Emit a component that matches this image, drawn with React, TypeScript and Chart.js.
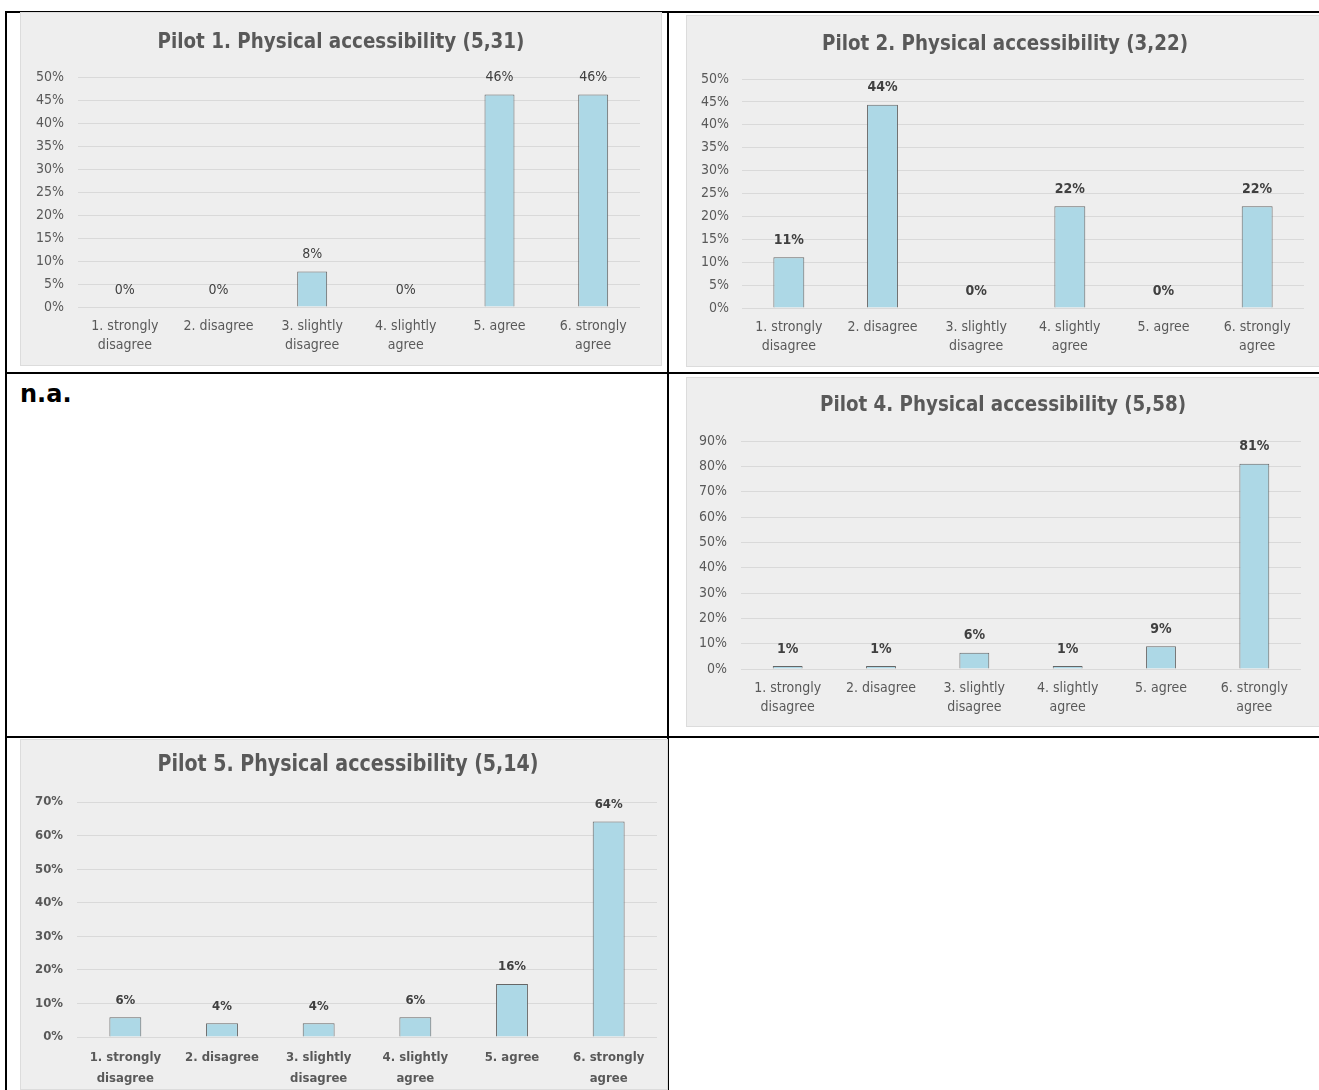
import React, { useEffect, useRef } from "react";
import { Chart, registerables } from "chart.js";

Chart.register(...registerables);

// ---------- data ----------
const CATEGORIES: (string | string[])[] = [
  ["1. strongly", "disagree"],
  "2. disagree",
  ["3. slightly", "disagree"],
  ["4. slightly", "agree"],
  "5. agree",
  ["6. strongly", "agree"],
];

const PILOT1_TITLE = "Pilot 1. Physical accessibility (5,31)";
const PILOT1_VALUES = [0, 0, 7.7, 0, 46.2, 46.2];
const PILOT1_Y_MAX = 50;
const PILOT1_Y_STEP = 5;

const PILOT2_TITLE = "Pilot 2. Physical accessibility (3,22)";
const PILOT2_VALUES = [11.1, 44.4, 0, 22.2, 0, 22.2];
const PILOT2_Y_MAX = 50;
const PILOT2_Y_STEP = 5;

const PILOT4_TITLE = "Pilot 4. Physical accessibility (5,58)";
const PILOT4_VALUES = [1.2, 1.2, 6.4, 1.2, 9.0, 81.0];
const PILOT4_Y_MAX = 90;
const PILOT4_Y_STEP = 10;

const PILOT5_TITLE = "Pilot 5. Physical accessibility (5,14)";
const PILOT5_VALUES = [5.9, 4.1, 4.1, 5.9, 15.8, 64.2];
const PILOT5_Y_MAX = 70;
const PILOT5_Y_STEP = 10;

const NA_TEXT = "n.a.";

// ---------- styles ----------
const FAMILY = "'DejaVu Sans Condensed', 'Noto Sans', sans-serif";
const TEXT_COLOR = "#595959";
const LABEL_COLOR = "#404040";
const GRID_COLOR = "#d9d9d9";
const BAR_FILL = "#add8e6";
const BAR_BORDER = "#666666";
const BOX_BG = "#eeeeee";

const labelsPlugin = {
  id: "customLabels",
  afterDatasetsDraw(chart: any, _args: any, opts: any) {
    const ctx = chart.ctx;
    const meta = chart.getDatasetMeta(0);
    const data = chart.data.datasets[0].data as number[];
    ctx.save();
    ctx.textAlign = "center";
    ctx.textBaseline = "middle";
    ctx.font = opts.labelFont;
    ctx.fillStyle = LABEL_COLOR;
    meta.data.forEach((bar: any, i: number) => {
      ctx.fillText(Math.round(data[i]) + "%", bar.x, bar.y - opts.labelOffset);
    });
    ctx.font = opts.titleFont;
    ctx.fillStyle = TEXT_COLOR;
    const measured = ctx.measureText(opts.title).width;
    const sx = opts.titleWidth && measured > 0 ? opts.titleWidth / measured : 1;
    ctx.translate(opts.titleX, opts.titleY);
    ctx.scale(sx, 1);
    ctx.fillText(opts.title, 0, 0);
    ctx.restore();
  },
};

type PanelProps = {
  title: string;
  values: number[];
  yMax: number;
  yStep: number;
  box: { x: number; y: number; w: number; h: number };
  area: { left: number; top: number; right: number; bottom: number };
  titleX: number;
  titleY: number;
  titleWidth: number;
  barPct: number;
  tickFont: { size: number; weight: string };
  labelFont: string;
  titleFont: string;
  lineHeight: number;
  xPad: number;
  yPad: number;
};

function Panel(p: PanelProps) {
  const ref = useRef<HTMLCanvasElement | null>(null);
  useEffect(() => {
    if (!ref.current) return;
    const relLeft = p.area.left - p.box.x;
    const relTop = p.area.top - p.box.y;
    const relRight = p.area.right - p.box.x;
    const relBottom = p.area.bottom - p.box.y;
    const L = 8;
    const yW = relLeft - L;
    const xH = 50;
    const B = Math.max(0, p.box.h - relBottom - xH);
    const R = p.box.w - relRight;
    const chart = new Chart(ref.current, {
      type: "bar",
      data: {
        labels: CATEGORIES as any,
        datasets: [
          {
            data: p.values,
            backgroundColor: BAR_FILL,
            borderColor: BAR_BORDER,
            borderWidth: 1,
            barPercentage: p.barPct,
            categoryPercentage: 1,
          },
        ],
      },
      options: {
        animation: false,
        responsive: false,
        maintainAspectRatio: false,
        layout: { padding: { left: L, top: relTop, right: R, bottom: B } },
        plugins: {
          legend: { display: false },
          title: { display: false },
          tooltip: { enabled: false },
          customLabels: {
            title: p.title,
            titleX: p.titleX,
            titleY: p.titleY,
            titleWidth: p.titleWidth,
            titleFont: p.titleFont,
            labelFont: p.labelFont,
            labelOffset: 17,
          },
        } as any,
        scales: {
          x: {
            grid: { display: false, drawTicks: false },
            border: { display: false },
            ticks: {
              color: TEXT_COLOR,
              padding: p.xPad,
              maxRotation: 0,
              autoSkip: false,
              font: { family: FAMILY, size: p.tickFont.size, weight: p.tickFont.weight as any, lineHeight: p.lineHeight + "px" } as any,
            },
            afterFit: (s: any) => {
              s.height = xH;
            },
          },
          y: {
            min: 0,
            max: p.yMax,
            grid: { color: GRID_COLOR, lineWidth: 1, drawTicks: false },
            border: { display: false },
            ticks: {
              stepSize: p.yStep,
              color: TEXT_COLOR,
              padding: p.yPad,
              font: { family: FAMILY, size: p.tickFont.size, weight: p.tickFont.weight as any },
              callback: (v: any) => v + "%",
            },
            afterFit: (s: any) => {
              s.width = yW;
            },
          },
        },
      },
      plugins: [labelsPlugin as any],
    });
    return () => chart.destroy();
  }, []);
  return (
    <div
      style={{
        position: "absolute",
        left: p.box.x,
        top: p.box.y,
        width: p.box.w,
        height: p.box.h,
        background: BOX_BG,
        boxShadow: "inset 0 0 0 1px #dcdcdc",
        zIndex: 2,
      }}
    >
      <canvas
        ref={ref}
        width={p.box.w}
        height={p.box.h}
        style={{ position: "absolute", left: 0, top: 0, width: p.box.w, height: p.box.h }}
      />
    </div>
  );
}

const line = (left: number, top: number, width: number, height: number) => (
  <div style={{ position: "absolute", left, top, width, height, background: "#000", zIndex: 1 }} />
);

export default function App() {
  const normalTick = { size: 14, weight: "normal" };
  const boldTick = { size: 13, weight: "bold" };
  return (
    <div
      style={{
        position: "absolute",
        left: 0,
        top: 0,
        width: 1319,
        height: 1090,
        overflow: "hidden",
        background: "#fff",
      }}
    >
      {line(5, 11, 1314, 2)}
      {line(5, 11, 2, 1079)}
      {line(667, 11, 2, 1079)}
      {line(5, 372, 1314, 2)}
      {line(5, 736, 1314, 2)}

      <Panel
        title={PILOT1_TITLE}
        values={PILOT1_VALUES}
        yMax={PILOT1_Y_MAX}
        yStep={PILOT1_Y_STEP}
        box={{ x: 20, y: 12, w: 642, h: 354 }}
        area={{ left: 78, top: 77, right: 640, bottom: 307 }}
        titleX={321}
        titleY={30}
        titleWidth={367}
        barPct={0.32}
        tickFont={normalTick}
        labelFont={`normal 14px ${FAMILY}`}
        titleFont={`bold 22px ${FAMILY}`}
        lineHeight={19}
        xPad={10}
        yPad={14}
      />
      <Panel
        title={PILOT2_TITLE}
        values={PILOT2_VALUES}
        yMax={PILOT2_Y_MAX}
        yStep={PILOT2_Y_STEP}
        box={{ x: 686, y: 15, w: 640, h: 352 }}
        area={{ left: 742, top: 79, right: 1304, bottom: 308 }}
        titleX={319}
        titleY={29}
        titleWidth={366}
        barPct={0.33}
        tickFont={normalTick}
        labelFont={`bold 14px ${FAMILY}`}
        titleFont={`bold 22px ${FAMILY}`}
        lineHeight={19}
        xPad={10}
        yPad={13}
      />
      <div
        style={{
          position: "absolute",
          left: 20,
          top: 380,
          fontFamily: "'DejaVu Sans', sans-serif",
          fontWeight: "bold",
          fontSize: 24,
          lineHeight: "28px",
          color: "#000",
          zIndex: 2,
        }}
      >
        {NA_TEXT}
      </div>
      <Panel
        title={PILOT4_TITLE}
        values={PILOT4_VALUES}
        yMax={PILOT4_Y_MAX}
        yStep={PILOT4_Y_STEP}
        box={{ x: 686, y: 377, w: 640, h: 350 }}
        area={{ left: 741, top: 441, right: 1301, bottom: 669 }}
        titleX={317}
        titleY={28}
        titleWidth={366}
        barPct={0.32}
        tickFont={normalTick}
        labelFont={`bold 14px ${FAMILY}`}
        titleFont={`bold 22px ${FAMILY}`}
        lineHeight={19}
        xPad={10}
        yPad={14}
      />
      <Panel
        title={PILOT5_TITLE}
        values={PILOT5_VALUES}
        yMax={PILOT5_Y_MAX}
        yStep={PILOT5_Y_STEP}
        box={{ x: 20, y: 739, w: 648, h: 351 }}
        area={{ left: 77, top: 802, right: 657, bottom: 1037 }}
        titleX={328}
        titleY={26}
        titleWidth={381}
        barPct={0.33}
        tickFont={boldTick}
        labelFont={`bold 13px ${FAMILY}`}
        titleFont={`bold 23px ${FAMILY}`}
        lineHeight={21}
        xPad={10}
        yPad={14}
      />
    </div>
  );
}
